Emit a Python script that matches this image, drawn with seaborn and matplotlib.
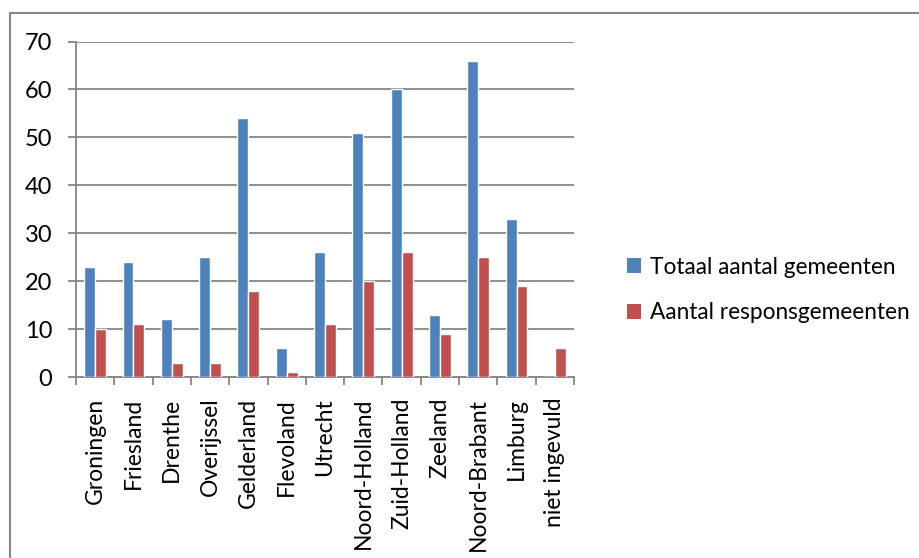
import matplotlib
matplotlib.use("Agg")
import matplotlib.pyplot as plt
import matplotlib.patches as mpatches
from matplotlib.lines import Line2D
import seaborn as sns
import pandas as pd

provincies = ["Groningen", "Friesland", "Drenthe", "Overijssel", "Gelderland",
              "Flevoland", "Utrecht", "Noord-Holland", "Zuid-Holland", "Zeeland",
              "Noord-Brabant", "Limburg", "niet ingevuld"]
totaal = [23, 24, 12, 25, 54, 6, 26, 51, 60, 13, 66, 33, 0]
respons = [10, 11, 3, 3, 18, 1, 11, 20, 26, 9, 25, 19, 6]
reeksen = ["Totaal aantal gemeenten", "Aantal responsgemeenten"]
kleuren = ["#4F81BD", "#C0504D"]

df = pd.DataFrame({
    "provincie": provincies * 2,
    "aantal": totaal + respons,
    "reeks": [reeksen[0]] * len(provincies) + [reeksen[1]] * len(provincies),
})

sns.set_theme(style="white")
plt.rcParams["font.family"] = ["Lato", "DejaVu Sans"]
plt.rcParams["text.color"] = "black"
plt.rcParams["xtick.color"] = "black"
plt.rcParams["ytick.color"] = "black"

grijs = "#868686"
fig = plt.figure(figsize=(9.2, 5.58), dpi=100)
ax = fig.add_axes([76 / 920, 1 - 377 / 558, (574 - 76) / 920, (377 - 41.5) / 558])

sns.barplot(data=df, x="provincie", y="aantal", hue="reeks", order=provincies,
            hue_order=reeksen, palette=kleuren, saturation=1, width=0.57,
            ax=ax, zorder=3, legend=False)

ax.set_xlim(-0.5, len(provincies) - 0.5)
ax.set_ylim(0, 70)
ax.set_yticks(range(0, 71, 10))
ax.set_xlabel("")
ax.set_ylabel("")

# gridlines and axis lines
ax.yaxis.grid(True, color=grijs, linewidth=1.3, zorder=0)
ax.xaxis.grid(False)
for side in ["top", "right"]:
    ax.spines[side].set_visible(False)
for side in ["left", "bottom"]:
    ax.spines[side].set_color(grijs)
    ax.spines[side].set_linewidth(1.3)

ax.tick_params(axis="y", which="major", length=6, width=1.3, color=grijs,
               labelcolor="black", labelsize=17, pad=11, left=True)
ax.set_xticks(range(len(provincies)))
ax.set_xticklabels(provincies, rotation=90, fontsize=16.5, color="black")
ax.tick_params(axis="x", which="major", length=0, pad=15)
ax.set_xticks([i - 0.5 for i in range(len(provincies) + 1)], minor=True)
ax.tick_params(axis="x", which="minor", length=6, width=1.3, color=grijs, bottom=True)

handles = [mpatches.Patch(facecolor=c, edgecolor="none", label=r) for c, r in zip(kleuren, reeksen)]
fig.legend(handles=handles, loc="center left", bbox_to_anchor=(607 / 920, 1 - 290 / 558),
           frameon=False, fontsize=16.3, handlelength=0.62, handleheight=0.62,
           handletextpad=0.4, labelspacing=1.1, labelcolor="black")

# outer chart frame
fig.add_artist(Line2D([10 / 920, 10 / 920], [0, 1 - 13 / 558], transform=fig.transFigure,
                      color=grijs, linewidth=1.5))
fig.add_artist(Line2D([10 / 920, 1], [1 - 13 / 558, 1 - 13 / 558], transform=fig.transFigure,
                      color=grijs, linewidth=1.5))

fig.savefig("out.png", dpi=100)
